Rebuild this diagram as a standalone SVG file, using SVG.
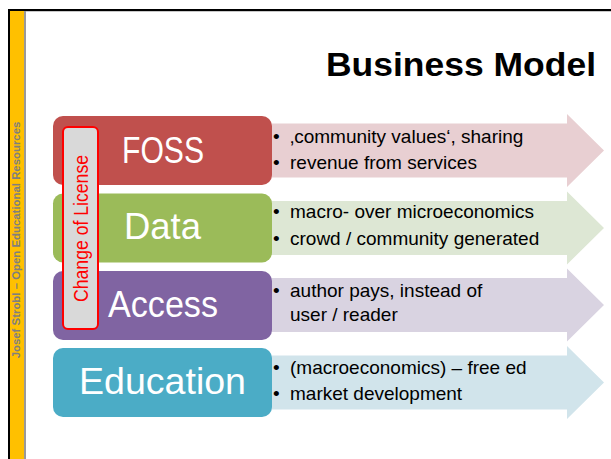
<svg xmlns="http://www.w3.org/2000/svg" width="611" height="459" viewBox="0 0 611 459">
<style>
.box{stroke:none}
.lbl{font-family:"Liberation Sans",Arial,sans-serif;font-size:37px;fill:#FFFFFF;text-anchor:middle}
.bul{font-family:"Liberation Sans",Arial,sans-serif;font-size:19px;fill:#000000}
.side{font-family:"Liberation Sans",Arial,sans-serif;font-size:11.4px;font-weight:bold;fill:#7F7F7F;text-anchor:middle}
.title{font-family:"Liberation Sans",Arial,sans-serif;font-size:33px;font-weight:bold;fill:#000000;text-anchor:end}
.lic{font-family:"Liberation Sans",Arial,sans-serif;font-size:20px;fill:#FF0000;text-anchor:middle}
</style>
<rect x="0" y="0" width="611" height="459" fill="#FFFFFF"/>
<g id="frame">
<rect x="8" y="9" width="603" height="2" fill="#000000"/>
<rect x="8" y="9" width="2" height="450" fill="#000000"/>
<rect x="10" y="11" width="14" height="448" fill="#FFC000"/>
<rect x="24" y="11" width="2" height="448" fill="#999999"/>
<rect x="26" y="11" width="585" height="1" fill="#C8C8C8"/>
<text class="side" transform="translate(20,240) rotate(-90)">Josef Strobl – Open Educational Resources</text>
</g>
<text class="title" x="596" y="76" textLength="270" lengthAdjust="spacingAndGlyphs">Business Model</text>

<g id="foss">
<polygon points="262,123.5 567,123.5 567,114 604,150.5 567,187 567,177.5 262,177.5" fill="#E8CFD2"/>
<rect class="box" x="53" y="116" width="219" height="69" rx="10" fill="#C0504D"/>
<text class="lbl" x="163" y="163" textLength="82" lengthAdjust="spacingAndGlyphs">FOSS</text>
<text class="bul" y="143"><tspan x="273">•</tspan><tspan x="290">‚community values‘, sharing</tspan></text>
<text class="bul" y="169"><tspan x="273">•</tspan><tspan x="290">revenue from services</tspan></text>
</g>

<g id="data">
<polygon points="262,201 567,201 567,191.5 604,228 567,264.5 567,255 262,255" fill="#DDE7D4"/>
<rect class="box" x="53" y="193.5" width="219" height="69" rx="10" fill="#9BBB59"/>
<text class="lbl" x="162.5" y="239" textLength="77" lengthAdjust="spacingAndGlyphs">Data</text>
<text class="bul" y="218"><tspan x="273">•</tspan><tspan x="290">macro- over microeconomics</tspan></text>
<text class="bul" y="245"><tspan x="273">•</tspan><tspan x="290">crowd / community generated</tspan></text>
</g>

<g id="access">
<polygon points="262,278 567,278 567,268.5 604,305 567,341.5 567,332 262,332" fill="#D9D3E1"/>
<rect class="box" x="53" y="271" width="219" height="69" rx="10" fill="#8064A2"/>
<text class="lbl" x="163" y="317" textLength="110" lengthAdjust="spacingAndGlyphs">Access</text>
<text class="bul" y="297"><tspan x="273">•</tspan><tspan x="290">author pays, instead of</tspan></text>
<text class="bul" x="290" y="321">user / reader</text>
</g>

<g id="education">
<polygon points="262,355.5 567,355.5 567,346 604,382.5 567,419 567,409.5 262,409.5" fill="#D1E4EB"/>
<rect class="box" x="53" y="348" width="219" height="69" rx="10" fill="#4BACC6"/>
<text class="lbl" x="162.5" y="394" textLength="167" lengthAdjust="spacingAndGlyphs">Education</text>
<text class="bul" y="374"><tspan x="273">•</tspan><tspan x="290">(macroeconomics) – free ed</tspan></text>
<text class="bul" y="400"><tspan x="273">•</tspan><tspan x="290">market development</tspan></text>
</g>

<g id="change-of-license">
<rect x="63" y="127" width="35" height="202" rx="5" fill="#D9D9D9" stroke="#FF0000" stroke-width="2"/>
<text class="lic" transform="translate(88,228.5) rotate(-90)" textLength="147" lengthAdjust="spacingAndGlyphs">Change of License</text>
</g>

<g id="connectors"></g>
</svg>
